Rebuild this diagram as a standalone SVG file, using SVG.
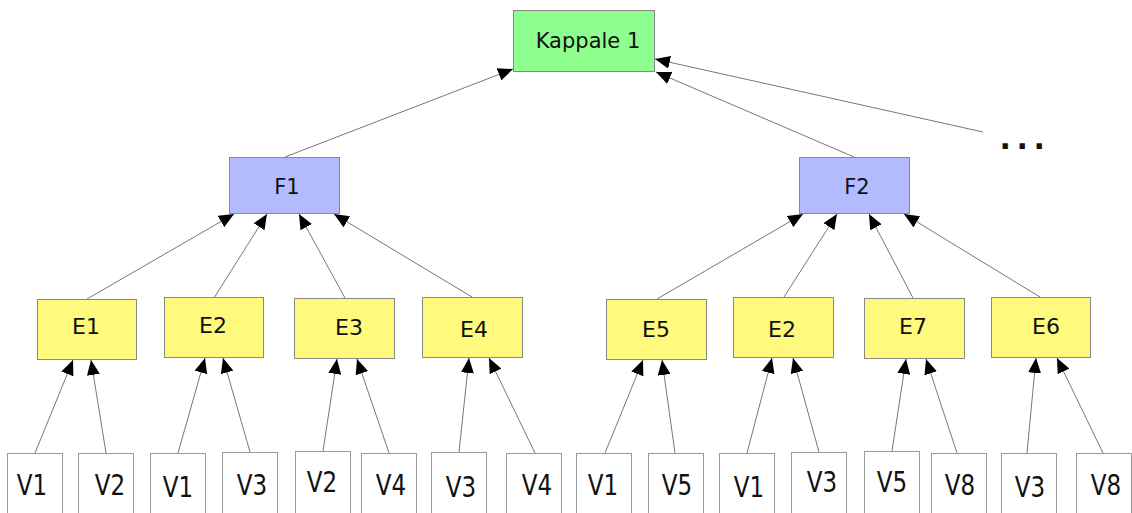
<svg xmlns="http://www.w3.org/2000/svg" width="1132" height="513" viewBox="0 0 1132 513">
<style>
.k{fill:#8eff8e;stroke:#888;stroke-width:1}
.f{fill:#b3bbff;stroke:#888;stroke-width:1}
.e{fill:#fff97e;stroke:#888;stroke-width:1}
.v{fill:#fff;stroke:#999;stroke-width:1}
text{font-family:"DejaVu Sans","Liberation Sans",sans-serif;font-size:22px;fill:#111;text-anchor:middle}
.vt{font-size:23px}
.c line{stroke:#777;stroke-width:1;marker-end:url(#ah)}
</style>
<defs>
<marker id="ah" markerUnits="userSpaceOnUse" markerWidth="15" markerHeight="13" refX="15" refY="6.5" orient="auto">
<path d="M0,0 L15,6.5 L0,13 z" fill="#000"/>
</marker>
</defs>
<rect width="1132" height="513" fill="#fff"/>
<g class="c" id="connectors">
<line x1="285" y1="157" x2="513" y2="69"/>
<line x1="854" y1="157" x2="656" y2="72"/>
<line x1="983" y1="132" x2="655" y2="59"/>
<line x1="87" y1="299" x2="234" y2="214"/>
<line x1="214" y1="298" x2="267" y2="214"/>
<line x1="345" y1="298" x2="299" y2="214"/>
<line x1="472" y1="297" x2="334" y2="214"/>
<line x1="657" y1="299" x2="803" y2="214"/>
<line x1="784" y1="297" x2="837" y2="214"/>
<line x1="913" y1="298" x2="869" y2="214"/>
<line x1="1040" y1="297" x2="904" y2="214"/>
<line x1="35" y1="453" x2="73" y2="360"/>
<line x1="106" y1="453" x2="91" y2="360"/>
<line x1="178" y1="453" x2="205" y2="358"/>
<line x1="250" y1="452" x2="223" y2="358"/>
<line x1="323" y1="451" x2="337" y2="359"/>
<line x1="389" y1="453" x2="357" y2="359"/>
<line x1="459" y1="452" x2="469" y2="358"/>
<line x1="535" y1="453" x2="489" y2="358"/>
<line x1="605" y1="453" x2="643" y2="360"/>
<line x1="675" y1="453" x2="662" y2="360"/>
<line x1="747" y1="453" x2="772" y2="358"/>
<line x1="819" y1="452" x2="793" y2="358"/>
<line x1="892" y1="451" x2="906" y2="359"/>
<line x1="957" y1="453" x2="926" y2="359"/>
<line x1="1027" y1="453" x2="1036" y2="358"/>
<line x1="1103" y1="453" x2="1057" y2="358"/>
</g>
<g id="kappale1"><rect class="k" x="513.5" y="10.5" width="141" height="61"/><text x="588" y="48" style="font-size:21px">Kappale 1</text></g>
<g id="more"><text x="1025" y="149" style="font-size:30px;font-weight:bold;letter-spacing:5.6px">...</text></g>
<g id="F1"><rect class="f" x="229.5" y="157.5" width="110" height="56"/><text x="287" y="194" style="font-size:21px">F1</text></g>
<g id="F2"><rect class="f" x="799.5" y="157.5" width="110" height="56"/><text x="857" y="194" style="font-size:21px">F2</text></g>
<g id="E1"><rect class="e" x="37.5" y="299.5" width="99" height="60"/><text x="86" y="334">E1</text></g>
<g id="E2"><rect class="e" x="164.5" y="297.5" width="99" height="60"/><text x="213" y="333">E2</text></g>
<g id="E3"><rect class="e" x="294.5" y="298.5" width="100" height="60"/><text x="349" y="335">E3</text></g>
<g id="E4"><rect class="e" x="422.5" y="297.5" width="100" height="60"/><text x="474" y="337">E4</text></g>
<g id="E5"><rect class="e" x="606.5" y="299.5" width="100" height="60"/><text x="656" y="337">E5</text></g>
<g id="E2b"><rect class="e" x="733.5" y="297.5" width="100" height="60"/><text x="782" y="337">E2</text></g>
<g id="E7"><rect class="e" x="864.5" y="298.5" width="100" height="60"/><text x="913" y="334">E7</text></g>
<g id="E6"><rect class="e" x="991.5" y="297.5" width="99" height="60"/><text x="1046" y="334">E6</text></g>
<g id="V1a"><rect class="v" x="7.5" y="453.5" width="55" height="70"/><text class="vt" transform="translate(32 495) scale(1 1.2)">V1</text></g>
<g id="V2a"><rect class="v" x="78.5" y="453.5" width="55" height="70"/><text class="vt" transform="translate(110 495) scale(1 1.2)">V2</text></g>
<g id="V1b"><rect class="v" x="150.5" y="453.5" width="55" height="70"/><text class="vt" transform="translate(178 497) scale(1 1.2)">V1</text></g>
<g id="V3a"><rect class="v" x="222.5" y="452.5" width="55" height="70"/><text class="vt" transform="translate(252 495) scale(1 1.2)">V3</text></g>
<g id="V2b"><rect class="v" x="295.5" y="451.5" width="55" height="70"/><text class="vt" transform="translate(322 492) scale(1 1.2)">V2</text></g>
<g id="V4a"><rect class="v" x="361.5" y="453.5" width="55" height="70"/><text class="vt" transform="translate(391 495) scale(1 1.2)">V4</text></g>
<g id="V3b"><rect class="v" x="431.5" y="452.5" width="55" height="70"/><text class="vt" transform="translate(461 497) scale(1 1.2)">V3</text></g>
<g id="V4b"><rect class="v" x="506.5" y="453.5" width="55" height="70"/><text class="vt" transform="translate(537 495) scale(1 1.2)">V4</text></g>
<g id="V1c"><rect class="v" x="576.5" y="453.5" width="55" height="70"/><text class="vt" transform="translate(603 495) scale(1 1.2)">V1</text></g>
<g id="V5a"><rect class="v" x="648.5" y="453.5" width="55" height="70"/><text class="vt" transform="translate(677 495) scale(1 1.2)">V5</text></g>
<g id="V1d"><rect class="v" x="719.5" y="453.5" width="55" height="70"/><text class="vt" transform="translate(749 497) scale(1 1.2)">V1</text></g>
<g id="V3c"><rect class="v" x="791.5" y="452.5" width="55" height="70"/><text class="vt" transform="translate(822 492) scale(1 1.2)">V3</text></g>
<g id="V5b"><rect class="v" x="864.5" y="451.5" width="55" height="70"/><text class="vt" transform="translate(892 492) scale(1 1.2)">V5</text></g>
<g id="V8a"><rect class="v" x="931.5" y="453.5" width="55" height="70"/><text class="vt" transform="translate(960 495) scale(1 1.2)">V8</text></g>
<g id="V3d"><rect class="v" x="1001.5" y="453.5" width="55" height="70"/><text class="vt" transform="translate(1030 497) scale(1 1.2)">V3</text></g>
<g id="V8b"><rect class="v" x="1076.5" y="453.5" width="55" height="70"/><text class="vt" transform="translate(1106 495) scale(1 1.2)">V8</text></g>
</svg>
